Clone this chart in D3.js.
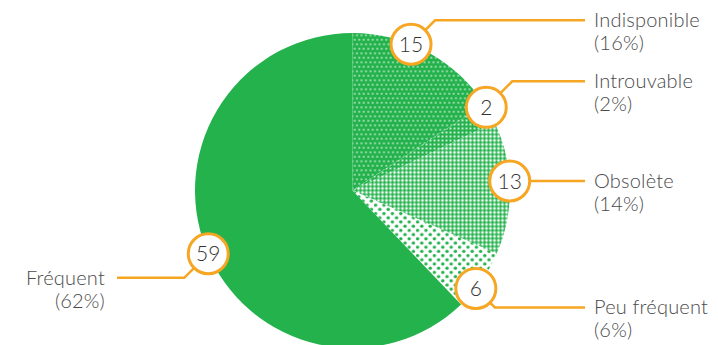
<!DOCTYPE html>
<html>
<head>
<meta charset="utf-8">
<script src="https://cdn.jsdelivr.net/npm/d3@7/dist/d3.min.js"></script>
<style>
  html, body { margin: 0; padding: 0; background: #fff; }
  svg { display: block; }
  text { font-family: Lato, "Open Sans", sans-serif; font-weight: 300; }
</style>
</head>
<body>
<div id="chart"></div>
<script>
// Reasons given, in order clockwise from 12 o'clock
const categories = ["Indisponible", "Introuvable", "Obsolète", "Peu fréquent", "Fréquent"];
const counts = [15, 2, 13, 6, 59];
const shareLabels = ["16%", "2%", "14%", "6%", "62%"];

// Label layout: small angular nudges (degrees) and the rise of each leader elbow (px)
const labelNudge = [-6.6, -2.5, -2.5, 3.4, -1.9];
const leaderRise = [-24, -26, 0, 19, 24];

const W = 718, H = 345;
const cx = 352.5, cy = 190.5, R = 157.5;
const green = "#23b24c", orange = "#f6a623";

const svg = d3.select("#chart").append("svg")
  .attr("width", W).attr("height", H);

// Halftone-like fills for the minor slices
const defs = svg.append("defs");
function dotPattern(id, size, bg, fg, r, mode) {
  const p = defs.append("pattern").attr("id", id)
    .attr("patternUnits", "userSpaceOnUse")
    .attr("width", size).attr("height", size);
  p.append("rect").attr("width", size).attr("height", size).attr("fill", bg);
  let pts;
  if (mode === "quad") {
    pts = [[size / 4, size / 4], [size * 3 / 4, size / 4], [0, size * 3 / 4], [size / 2, size * 3 / 4], [size, size * 3 / 4]];
  } else if (mode === "diag") {
    pts = [[size / 4, size / 4], [size * 3 / 4, size * 3 / 4]];
  } else {
    pts = [[size / 2, size / 2]];
  }
  pts.forEach(([x, y]) => p.append("circle").attr("cx", x).attr("cy", y).attr("r", r).attr("fill", fg));
}
dotPattern("pIndisponible", 9, green, "#fff", 0.85, "quad");
dotPattern("pIntrouvable", 4, green, "#fff", 1.0, "grid");
dotPattern("pObsolete", 4, green, "#fff", 1.4, "grid");
dotPattern("pPeu", 8.4, "#fff", green, 1.7, "diag");
const fills = ["url(#pIndisponible)", "url(#pIntrouvable)", "url(#pObsolete)", "url(#pPeu)", green];

const pie = d3.pie().sort(null).value(d => d).startAngle(0).endAngle(2 * Math.PI);
const arcs = pie(counts);
const arc = d3.arc().innerRadius(0).outerRadius(R);

const g = svg.append("g").attr("transform", `translate(${cx},${cy})`);
g.selectAll("path.slice").data(arcs).enter().append("path")
  .attr("class", "slice")
  .attr("d", arc)
  .attr("fill", (d, i) => fills[i]);

// Leader lines, value bubbles and category labels
const rightX = 585, rightTextX = 594, leftX = 117, leftTextX = 105;
arcs.forEach((a, i) => {
  const theta = (a.startAngle + a.endAngle) / 2 + labelNudge[i] * Math.PI / 180;
  const bx = cx + R * Math.sin(theta);
  const by = cy - R * Math.cos(theta);
  const right = Math.sin(theta) > 0;
  const rise = leaderRise[i];
  const ex = bx + (right ? 1 : -1) * Math.abs(rise);
  const ey = by + rise;
  const endX = right ? rightX : leftX;

  svg.append("path")
    .attr("d", `M${bx},${by}L${ex},${ey}L${endX},${ey}`)
    .attr("fill", "none").attr("stroke", orange).attr("stroke-width", 2.5);

  svg.append("circle")
    .attr("cx", bx).attr("cy", by).attr("r", 20)
    .attr("fill", "#fff").attr("stroke", orange).attr("stroke-width", 3);

  svg.append("text")
    .attr("x", bx).attr("y", by + 7.5)
    .attr("text-anchor", "middle")
    .attr("font-size", 21).attr("fill", "#333")
    .text(counts[i]);

  const tx = right ? rightTextX : leftTextX;
  const t = svg.append("text")
    .attr("x", tx)
    .attr("y", ey + 7)
    .attr("text-anchor", right ? "start" : "end")
    .attr("font-size", 20).attr("letter-spacing", 0.2).attr("fill", "#4a4a4a");
  t.append("tspan").attr("x", tx).text(categories[i]);
  t.append("tspan").attr("x", tx).attr("dy", 23)
    .text(`(${shareLabels[i]})`);
});
</script>
</body>
</html>
